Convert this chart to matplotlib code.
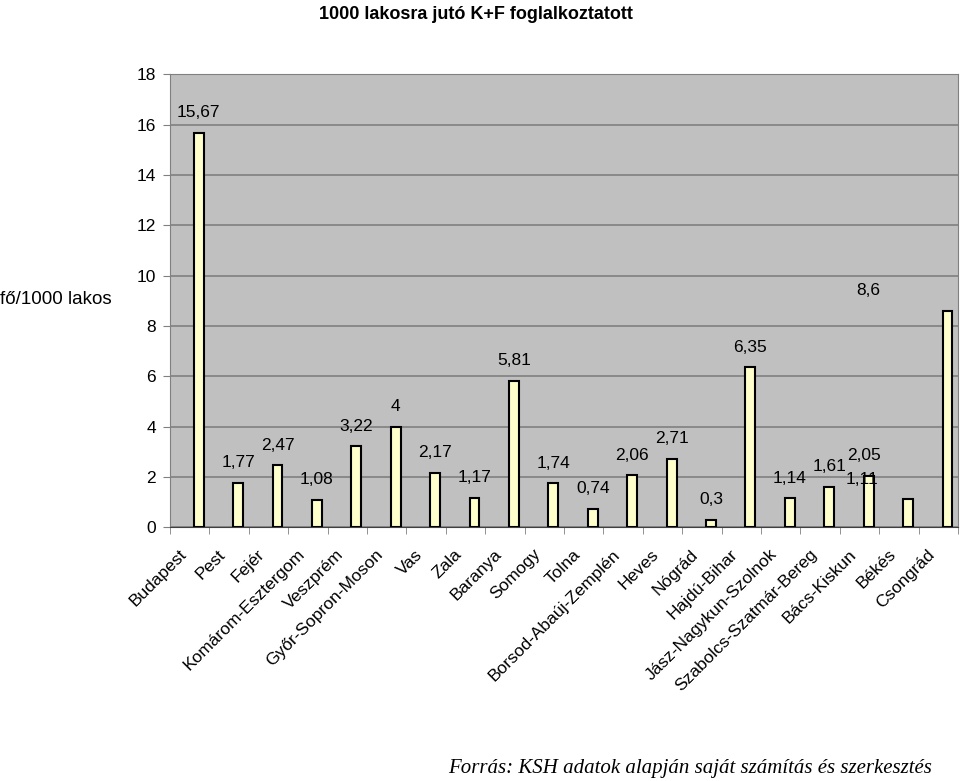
import matplotlib.pyplot as plt
import matplotlib.transforms as mtransforms
import numpy as np

plt.rcParams['font.family'] = ['Liberation Sans', 'DejaVu Sans']

megyek = ["Budapest", "Pest", "Fejér", "Komárom-Esztergom", "Veszprém", "Győr-Sopron-Moson",
          "Vas", "Zala", "Baranya", "Somogy", "Tolna", "Borsod-Abaúj-Zemplén", "Heves",
          "Nógrád", "Hajdú-Bihar", "Jász-Nagykun-Szolnok", "Szabolcs-Szatmár-Bereg",
          "Bács-Kiskun", "Békés", "Csongrád"]
ertekek = [15.67, 1.77, 2.47, 1.08, 3.22, 4, 2.17, 1.17, 5.81, 1.74, 0.74, 2.06, 2.71,
           0.3, 6.35, 1.14, 1.61, 2.05, 1.11, 8.6]
# label x shifts (in category units) - the original has some labels displaced
cimke_eltolas = [0] * 17 + [-0.13, -1.17, -2.0]

fig = plt.figure(figsize=(9.6, 7.81), dpi=100)
ax = fig.add_axes([0.177, 0.325, 0.821, 0.580])

x = np.arange(len(megyek))
bar_x = x + 0.23
ax.set_facecolor("#C0C0C0")
ax.bar(bar_x, ertekek, width=0.25, color="#FFFFCC", edgecolor="black", linewidth=1.5, zorder=3)

for i, v in enumerate(ertekek):
    txt = ("%g" % v).replace(".", ",")
    ax.annotate(txt, (bar_x[i] + cimke_eltolas[i], v), xytext=(0, 9), textcoords="offset points",
                ha="center", va="bottom", fontsize=12.5, zorder=4)

ax.set_xlim(-0.5, len(megyek) - 0.5)
ax.set_ylim(0, 18)
ax.set_yticks(range(0, 19, 2))
ax.yaxis.grid(True, color="#808080", linewidth=1.2, zorder=0)
ax.set_axisbelow(True)

ax.set_xticks(x)
ax.set_xticklabels(megyek, rotation=45, ha="right", rotation_mode="anchor", fontsize=12.5)
ax.tick_params(axis="x", length=0, pad=14)
shift = mtransforms.ScaledTranslation(-8 / 72, 0, fig.dpi_scale_trans)
for lab in ax.get_xticklabels():
    lab.set_transform(lab.get_transform() + shift)
ax.set_xticks(np.arange(-0.5, len(megyek), 1), minor=True)
ax.tick_params(axis="x", which="minor", length=5, color="#808080")
ax.tick_params(axis="y", labelsize=12.5, length=5, color="#808080", pad=5)

for s in ["top", "right"]:
    ax.spines[s].set_color("#808080")
ax.spines["left"].set_color("#808080")
ax.spines["bottom"].set_color("#404040")

fig.text(0.496, 0.992, "1000 lakosra jutó K+F foglalkoztatott", ha="center", va="top",
         fontsize=13, fontweight="bold", family=["Liberation Sans Narrow", "Liberation Sans"])
fig.text(0.058, 0.617, "fő/1000 lakos", ha="center", va="center", fontsize=13.5)
fig.text(0.971, 0.004, "Forrás: KSH adatok alapján saját számítás és szerkesztés", ha="right",
         va="bottom", fontsize=15, style="italic", family=["Liberation Serif", "DejaVu Serif"])

fig.savefig("out.png", dpi=100)
